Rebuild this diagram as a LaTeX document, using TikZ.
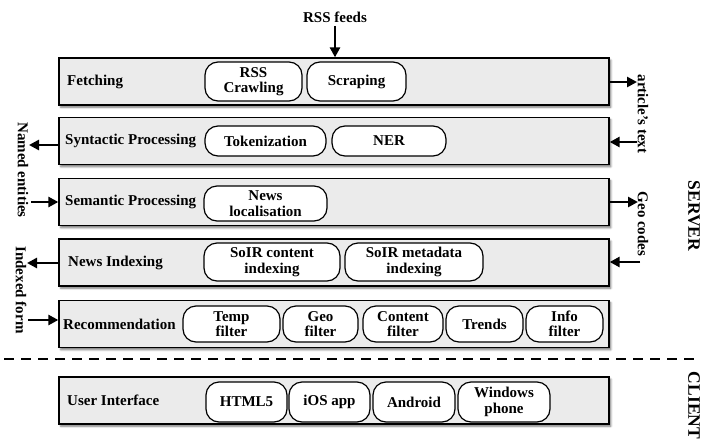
\documentclass[tikz,border=0pt]{standalone}
\usepackage{fontspec}
\setmainfont{Liberation Serif}
\usetikzlibrary{arrows.meta,shadows.blur}
\begin{document}
\begin{tikzpicture}[x=1pt,y=-1pt,
  every node/.style={font=\bfseries\fontsize{15}{15.5}\selectfont},
  layer/.style={draw=black, line width=1.3pt, fill=black!8, minimum width=550pt,
    minimum height=47pt, inner sep=0pt,
    blur shadow={shadow xshift=1.8pt, shadow yshift=-2.2pt, shadow blur steps=6,
      shadow blur radius=2pt, shadow opacity=55}},
  pill/.style={draw=black, line width=1.2pt, fill=white, rounded corners=13pt,
    align=center, inner sep=0pt},
  lbl/.style={anchor=west, inner sep=0pt},
  side/.style={rotate=-90, inner sep=0pt},
  big/.style={font=\bfseries\fontsize{17.5}{18}\selectfont},
  flow/.style={line width=2.5pt, -{Triangle[length=10pt,width=10pt]}},
  divider/.style={line width=1.3pt, dash pattern=on 10pt off 7pt}
]
\useasboundingbox (0,0) rectangle (703,439);

% layers of the stack
\node[layer] (fetch) at (334,81.5) {};
\node[layer] (synt)  at (334,141)  {};
\node[layer] (sem)   at (334,202)  {};
\node[layer] (news)  at (334,262.5){};
\node[layer] (rec)   at (334,324)  {};
\node[layer] (ui)    at (334,400.5){};

% layer titles
\node[lbl] (tfetch) at (67,81.5)  {Fetching};
\node[lbl] (tsynt)  at (65,141)   {Syntactic Processing};
\node[lbl] (tsem)   at (65,202)   {Semantic Processing};
\node[lbl] (tnews)  at (68,262.5) {News Indexing};
\node[lbl] (trec)   at (63,324)   {Recommendation};
\node[lbl] (tui)    at (67,400.5) {User Interface};

% components
\node[pill, minimum width=97pt,  minimum height=39pt] (pcrawl) at (253.5,81.5) {RSS\\Crawling};
\node[pill, minimum width=99pt,  minimum height=39pt] (pscrap) at (356.5,81.5) {Scraping};

\node[pill, minimum width=121pt, minimum height=30pt] (ptok) at (265.5,141) {Tokenization};
\node[pill, minimum width=114pt, minimum height=30pt] (pner) at (389,141)   {NER};

\node[pill, minimum width=123pt, minimum height=35pt] (ploc) at (265.5,203.5) {News\\localisation};

\node[pill, minimum width=136pt, minimum height=38pt] (pcont) at (272,262) {SoIR content\\indexing};
\node[pill, minimum width=138pt, minimum height=38pt] (pmeta) at (414,262) {SoIR metadata\\indexing};

\node[pill, minimum width=97pt, minimum height=36pt] (ptemp)  at (231.5,324) {Temp\\filter};
\node[pill, minimum width=75pt, minimum height=36pt] (pgeo)   at (320.5,324) {Geo\\filter};
\node[pill, minimum width=80pt, minimum height=36pt] (pcf)    at (403,324)   {Content\\filter};
\node[pill, minimum width=77pt, minimum height=36pt] (ptrend) at (484.5,324) {Trends};
\node[pill, minimum width=77pt, minimum height=36pt] (pinfo)  at (564.5,324) {Info\\filter};

\node[pill, minimum width=81pt, minimum height=40pt] (phtml) at (246.5,402) {HTML5};
\node[pill, minimum width=81pt, minimum height=40pt] (pios)  at (329.5,402) {iOS app};
\node[pill, minimum width=82pt, minimum height=40pt] (pand)  at (414,402)   {Android};
\node[pill, minimum width=92pt, minimum height=40pt] (pwin)  at (504,402)   {Windows\\phone};

% data flowing in and out
\node (rss) at (335,17) {RSS feeds};
\draw[flow] (rss.south) -- (rss.south |- fetch.north);

\node[side] (tart)   at (643,114) {article's text};
\node[side] (tgeo)   at (643,224) {Geo codes};
\node[side] (tnamed) at (23,170)  {Named entities};
\node[side] (tidx)   at (21,290)  {Indexed form};

\coordinate (c1) at (637,82);
\coordinate (c2) at (637,142);
\coordinate (c3) at (638,202);
\coordinate (c4) at (640,262);
\coordinate (c5) at (29,145);
\coordinate (c6) at (31,202);
\coordinate (c7) at (27,263);
\coordinate (c8) at (28,320);
\draw[flow] (fetch.east |- c1) -- (c1);
\draw[flow] (c2) -- (synt.east |- c2);
\draw[flow] (sem.east |- c3) -- (c3);
\draw[flow] (c4) -- (news.east |- c4);
\draw[flow] (synt.west |- c5) -- (c5);
\draw[flow] (c6) -- (sem.west |- c6);
\draw[flow] (news.west |- c7) -- (c7);
\draw[flow] (c8) -- (rec.west |- c8);

% server / client split
\coordinate (dl) at (4,359);
\coordinate (dr) at (700,359);
\draw[divider] (dl) -- (dr);
\node[side, big] (tserver) at (694,216)   {SERVER};
\node[side, big] (tclient) at (694,405.5) {CLIENT};
\end{tikzpicture}
\end{document}
